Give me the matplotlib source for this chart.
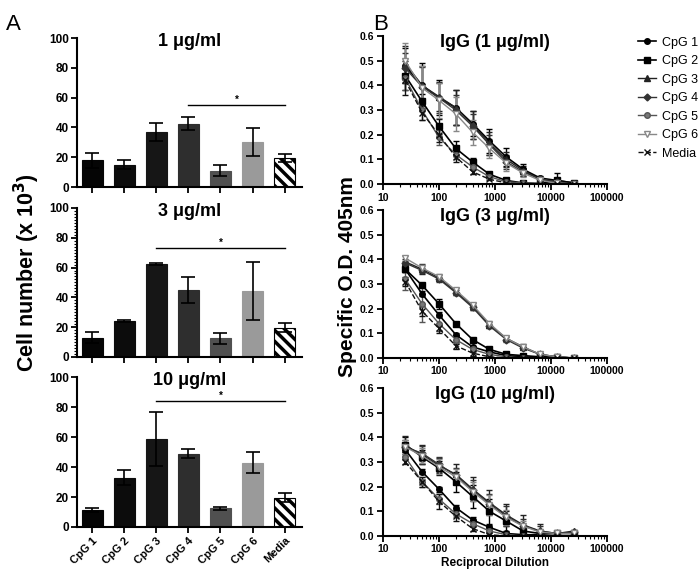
import matplotlib
matplotlib.use('Agg')
import matplotlib.pyplot as plt
from matplotlib.ticker import MultipleLocator
import numpy as np

plt.rcParams['font.family'] = ['Liberation Sans', 'DejaVu Sans']
plt.rcParams['hatch.linewidth'] = 2.5

# bar data (cell number x 10^3)
groups = ['CpG 1', 'CpG 2', 'CpG 3', 'CpG 4', 'CpG 5', 'CpG 6', 'Media']
bar_titles = ['1 \u03bcg/ml', '3 \u03bcg/ml', '10 \u03bcg/ml']
bars_1 = [18, 15, 37, 42.5, 11, 30, 19.5]
err_1 = [5, 3, 6, 4.5, 3.5, 9.5, 3]
bars_3 = [13, 24, 62.5, 45, 12.5, 44, 19.5]
err_3 = [3.5, 0.7, 0.6, 8.5, 3.5, 19.5, 3]
bars_10 = [11.5, 33, 59, 49, 12.5, 43, 19.5]
err_10 = [1.5, 5, 18, 3.3, 1, 7.3, 3]
sig_1 = (3, 6, 55)
sig_3 = (2, 6, 73)
sig_10 = (2, 6, 84)
bar_colors = ['#050505', '#0c0c0c', '#161616', '#2e2e2e', '#505050', '#9a9a9a', 'white']

# ELISA data
dilution = [25, 50, 100, 200, 400, 800, 1600, 3200, 6400, 12800, 25600]
series = ['CpG 1', 'CpG 2', 'CpG 3', 'CpG 4', 'CpG 5', 'CpG 6', 'Media']
igg_titles = ['IgG (1 \u03bcg/ml)', 'IgG (3 \u03bcg/ml)', 'IgG (10 \u03bcg/ml)']

od_1 = {
    'CpG 1': [0.48, 0.40, 0.35, 0.31, 0.245, 0.175, 0.11, 0.06, 0.025, 0.015, 0.005],
    'CpG 2': [0.44, 0.335, 0.235, 0.145, 0.09, 0.04, 0.015, 0.005, 0.003, 0.015, 0.005],
    'CpG 3': [0.49, 0.40, 0.355, 0.31, 0.24, 0.165, 0.10, 0.055, 0.02, 0.01, 0.0],
    'CpG 4': [0.47, 0.395, 0.35, 0.30, 0.235, 0.16, 0.09, 0.05, 0.02, 0.01, 0.0],
    'CpG 5': [0.43, 0.30, 0.19, 0.12, 0.07, 0.03, 0.01, 0.005, 0.0, 0.0, 0.0],
    'CpG 6': [0.50, 0.39, 0.34, 0.285, 0.21, 0.145, 0.085, 0.045, 0.015, 0.005, 0.0],
    'Media': [0.42, 0.29, 0.20, 0.11, 0.05, 0.02, 0.005, 0.0, 0.0, 0.0, 0.0],
}
sd_1 = {
    'CpG 1': [0.07, 0.09, 0.07, 0.07, 0.05, 0.05, 0.035, 0.02, 0.01, 0.03, 0.0],
    'CpG 2': [0.06, 0.03, 0.03, 0.03, 0.015, 0.01, 0.005, 0.005, 0.005, 0.01, 0.0],
    'CpG 3': [0.07, 0.08, 0.06, 0.07, 0.055, 0.045, 0.03, 0.02, 0.01, 0.01, 0.0],
    'CpG 4': [0.06, 0.08, 0.06, 0.06, 0.05, 0.04, 0.03, 0.015, 0.01, 0.01, 0.0],
    'CpG 5': [0.05, 0.04, 0.03, 0.02, 0.01, 0.005, 0.005, 0.005, 0.0, 0.0, 0.0],
    'CpG 6': [0.07, 0.09, 0.07, 0.07, 0.05, 0.04, 0.03, 0.015, 0.01, 0.005, 0.0],
    'Media': [0.06, 0.03, 0.03, 0.02, 0.01, 0.005, 0.005, 0.0, 0.0, 0.0, 0.0],
}
od_3 = {
    'CpG 1': [0.36, 0.26, 0.175, 0.095, 0.045, 0.025, 0.01, 0.005, 0.0, 0.0, 0.0],
    'CpG 2': [0.36, 0.295, 0.22, 0.14, 0.075, 0.035, 0.015, 0.01, 0.005, 0.005, 0.0],
    'CpG 3': [0.39, 0.36, 0.325, 0.27, 0.21, 0.135, 0.08, 0.045, 0.015, 0.005, 0.0],
    'CpG 4': [0.385, 0.355, 0.32, 0.265, 0.205, 0.13, 0.075, 0.04, 0.015, 0.005, 0.0],
    'CpG 5': [0.32, 0.22, 0.14, 0.075, 0.035, 0.015, 0.005, 0.0, 0.0, 0.0, 0.0],
    'CpG 6': [0.405, 0.365, 0.33, 0.275, 0.215, 0.14, 0.08, 0.045, 0.015, 0.005, 0.0],
    'Media': [0.31, 0.19, 0.12, 0.05, 0.02, 0.005, 0.0, 0.0, 0.0, 0.0, 0.0],
}
sd_3 = {
    'CpG 1': [0.01, 0.01, 0.01, 0.005, 0.005, 0.005, 0.0, 0.0, 0.0, 0.0, 0.0],
    'CpG 2': [0.01, 0.005, 0.02, 0.005, 0.005, 0.005, 0.0, 0.0, 0.0, 0.0, 0.0],
    'CpG 3': [0.01, 0.02, 0.01, 0.015, 0.015, 0.01, 0.01, 0.01, 0.005, 0.0, 0.0],
    'CpG 4': [0.01, 0.01, 0.01, 0.01, 0.01, 0.01, 0.01, 0.005, 0.005, 0.0, 0.0],
    'CpG 5': [0.045, 0.075, 0.03, 0.02, 0.01, 0.005, 0.0, 0.0, 0.0, 0.0, 0.0],
    'CpG 6': [0.01, 0.01, 0.01, 0.01, 0.01, 0.01, 0.01, 0.005, 0.005, 0.0, 0.0],
    'Media': [0.02, 0.02, 0.02, 0.015, 0.01, 0.005, 0.0, 0.0, 0.0, 0.0, 0.0],
}
od_10 = {
    'CpG 1': [0.35, 0.26, 0.19, 0.115, 0.065, 0.035, 0.01, 0.005, 0.005, 0.0, 0.0],
    'CpG 2': [0.37, 0.32, 0.275, 0.22, 0.16, 0.10, 0.06, 0.02, 0.01, 0.01, 0.01],
    'CpG 3': [0.365, 0.33, 0.285, 0.25, 0.19, 0.135, 0.085, 0.045, 0.02, 0.01, 0.02],
    'CpG 4': [0.36, 0.335, 0.29, 0.245, 0.185, 0.13, 0.08, 0.04, 0.02, 0.01, 0.015],
    'CpG 5': [0.32, 0.22, 0.15, 0.09, 0.05, 0.02, 0.005, 0.0, 0.0, 0.0, 0.0],
    'CpG 6': [0.36, 0.325, 0.28, 0.24, 0.18, 0.125, 0.075, 0.04, 0.015, 0.01, 0.01],
    'Media': [0.30, 0.22, 0.14, 0.08, 0.03, 0.005, 0.0, 0.0, 0.0, 0.0, 0.0],
}
sd_10 = {
    'CpG 1': [0.01, 0.01, 0.01, 0.01, 0.01, 0.01, 0.005, 0.005, 0.0, 0.0, 0.0],
    'CpG 2': [0.03, 0.03, 0.03, 0.04, 0.045, 0.05, 0.04, 0.02, 0.01, 0.01, 0.005],
    'CpG 3': [0.04, 0.04, 0.03, 0.04, 0.05, 0.05, 0.045, 0.04, 0.03, 0.01, 0.005],
    'CpG 4': [0.03, 0.03, 0.03, 0.03, 0.04, 0.04, 0.04, 0.03, 0.02, 0.01, 0.005],
    'CpG 5': [0.01, 0.02, 0.02, 0.015, 0.01, 0.01, 0.005, 0.0, 0.0, 0.0, 0.0],
    'CpG 6': [0.03, 0.03, 0.03, 0.03, 0.04, 0.04, 0.03, 0.02, 0.015, 0.01, 0.005],
    'Media': [0.01, 0.02, 0.03, 0.02, 0.01, 0.005, 0.0, 0.0, 0.0, 0.0, 0.0],
}

styles = {
    'CpG 1': dict(marker='o', color='black', mfc='black', ls='-', lw=1.2),
    'CpG 2': dict(marker='s', color='black', mfc='black', ls='-', lw=1.2),
    'CpG 3': dict(marker='^', color='#222222', mfc='#222222', ls='-', lw=1.0),
    'CpG 4': dict(marker='D', color='#333333', mfc='#333333', ls='-', lw=1.0, ms=3.5),
    'CpG 5': dict(marker='o', color='#555555', mfc='#777777', ls='-', lw=1.0),
    'CpG 6': dict(marker='v', color='#888888', mfc='white', ls='-', lw=1.0),
    'Media': dict(marker='x', color='#111111', mfc='none', ls='--', lw=1.0),
}

fig = plt.figure(figsize=(7, 5.72), dpi=100)

bar_sets = [(bars_1, err_1, sig_1), (bars_3, err_3, sig_3), (bars_10, err_10, sig_10)]
left_pos = [[0.110, 0.673, 0.321, 0.2605], [0.110, 0.376, 0.321, 0.2605], [0.110, 0.0787, 0.321, 0.262]]
x = np.arange(len(groups))
for i, (vals, errs, sig) in enumerate(bar_sets):
    ax = fig.add_axes(left_pos[i])
    for j in range(len(groups)):
        hatch = '\\\\\\' if groups[j] == 'Media' else None
        ax.bar(x[j], vals[j], width=0.65, color=bar_colors[j], edgecolor='black' if hatch else bar_colors[j],
               hatch=hatch, linewidth=0.8)
    ax.errorbar(x, vals, yerr=errs, fmt='none', ecolor='black', elinewidth=1.2, capsize=5, capthick=1.2)
    ax.plot([sig[0], sig[1]], [sig[2], sig[2]], color='black', lw=1)
    ax.text((sig[0] + sig[1]) / 2, sig[2] + 0.5, '*', ha='center', va='bottom', fontsize=7, fontweight='bold')
    ax.set_xlim(-0.47, 6.53)
    ax.set_ylim(0, 100)
    ax.set_yticks([0, 20, 40, 60, 80, 100])
    if i == 1:
        ax.yaxis.set_minor_locator(MultipleLocator(2))
        ax.tick_params(axis='y', which='minor', length=2, width=0.8)
    ax.set_xticks(x)
    if i == 2:
        ax.set_xticklabels(groups, rotation=45, ha='right', rotation_mode='anchor', fontsize=8, fontweight='bold')
    else:
        ax.set_xticklabels([])
    for lab in ax.get_yticklabels():
        lab.set_fontweight('bold')
    ax.tick_params(axis='y', which='major', labelsize=8.5, width=1.3, length=4, pad=2)
    ax.tick_params(axis='x', which='major', width=1.3, length=4, pad=2)
    ax.spines['top'].set_visible(False)
    ax.spines['right'].set_visible(False)
    ax.spines['left'].set_linewidth(1.5)
    ax.spines['bottom'].set_linewidth(1.5)
    ax.set_title(bar_titles[i], fontsize=13, fontweight='bold', pad=-6, y=1.0)

od_sets = [(od_1, sd_1), (od_3, sd_3), (od_10, sd_10)]
right_pos = [[0.547, 0.678, 0.32, 0.259], [0.547, 0.374, 0.32, 0.259], [0.547, 0.063, 0.32, 0.259]]
for i, (od, sd) in enumerate(od_sets):
    ax = fig.add_axes(right_pos[i])
    for s in series:
        st = dict(styles[s])
        ms = st.pop('ms', 4)
        ax.errorbar(dilution, od[s], yerr=sd[s], marker=st['marker'], color=st['color'], mfc=st['mfc'],
                    mec=st['color'], ls=st['ls'], lw=st['lw'], ms=ms, capsize=2.5, elinewidth=1, label=s)
    ax.set_xscale('log')
    ax.set_xlim(10, 100000)
    ax.set_ylim(0, 0.6)
    ax.set_yticks([0.0, 0.1, 0.2, 0.3, 0.4, 0.5, 0.6])
    ax.set_yticklabels(['0.0', '0.1', '0.2', '0.3', '0.4', '0.5', '0.6'])
    ax.set_xticks([10, 100, 1000, 10000, 100000])
    ax.set_xticklabels(['10', '100', '1000', '10000', '100000'])
    for lab in ax.get_yticklabels() + ax.get_xticklabels():
        lab.set_fontweight('bold')
    ax.tick_params(axis='both', which='major', labelsize=7.5, width=1.3, length=4, pad=2)
    ax.tick_params(axis='x', which='minor', width=0.8, length=2.5)
    ax.spines['top'].set_visible(False)
    ax.spines['right'].set_visible(False)
    ax.spines['left'].set_linewidth(1.5)
    ax.spines['bottom'].set_linewidth(1.5)
    ax.set_title(igg_titles[i], fontsize=13, fontweight='bold', pad=-6, y=0.98)
    if i == 0:
        handles, labels = ax.get_legend_handles_labels()
        handles = [h[0] for h in handles]
        fig.legend(handles, labels, loc='upper left', bbox_to_anchor=(0.912, 0.936), frameon=False,
                   fontsize=9, handlelength=1.4, labelspacing=0.52, handletextpad=0.5, borderpad=0,
                   borderaxespad=0)
    if i == 2:
        ax.set_xlabel('Reciprocal Dilution', fontsize=8.5, fontweight='bold', labelpad=2)

fig.text(0.008, 0.975, 'A', fontsize=16, va='top')
fig.text(0.533, 0.975, 'B', fontsize=16, va='top')
fig.text(0.038, 0.524, 'Cell number (x 10$^{\\mathbf{3}}$)', rotation=90, fontsize=15.5, fontweight='bold',
         ha='center', va='center')
fig.text(0.497, 0.517, 'Specific O.D. 405nm', rotation=90, fontsize=15, fontweight='bold',
         ha='center', va='center')

fig.savefig('out.png', dpi=100)
